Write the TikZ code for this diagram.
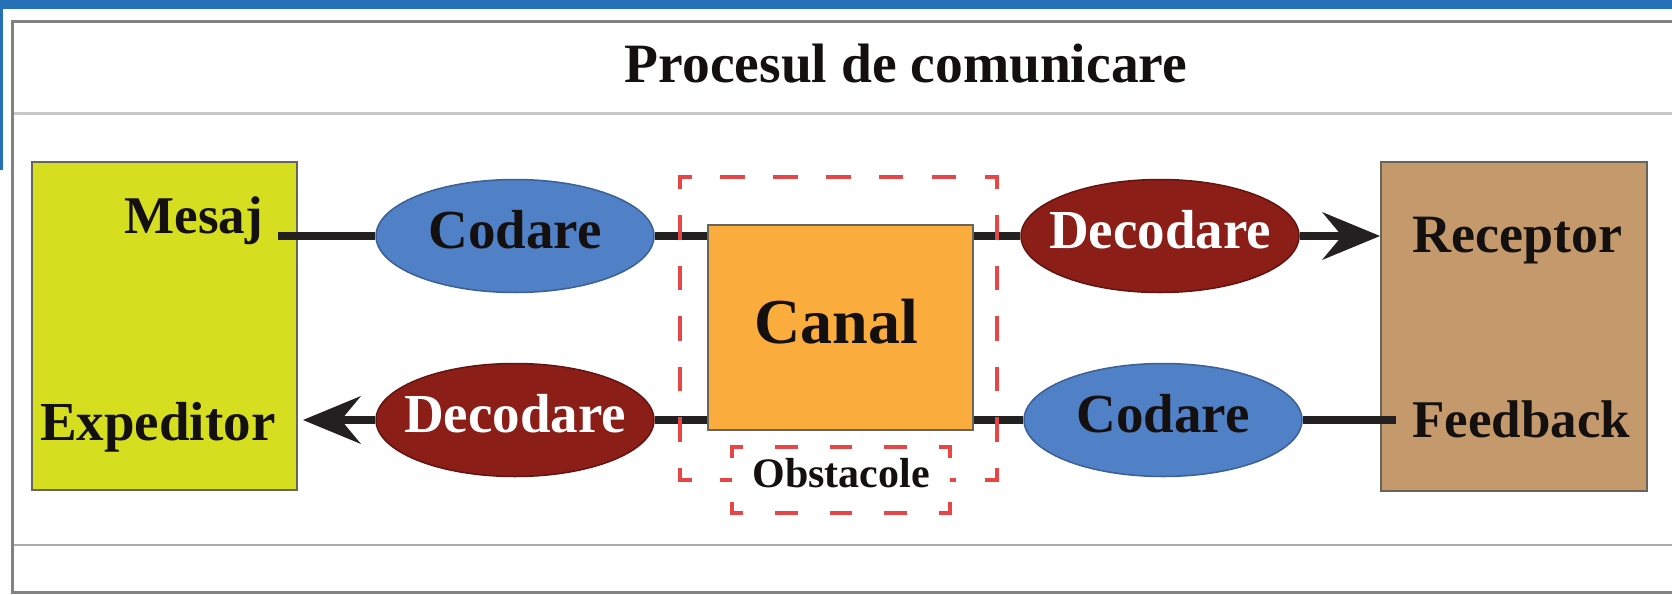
\documentclass[tikz,border=0pt]{standalone}
\usepackage{fontspec}
\setmainfont{Liberation Serif}
\usetikzlibrary{arrows.meta,shapes.geometric,calc}
\definecolor{bluebar}{RGB}{38,112,183}
\definecolor{framec}{RGB}{130,130,130}
\definecolor{sepc}{RGB}{200,200,200}
\definecolor{sepd}{RGB}{170,170,170}
\definecolor{yel}{RGB}{214,222,32}
\definecolor{tan}{RGB}{196,153,107}
\definecolor{orng}{RGB}{250,172,60}
\definecolor{codblue}{RGB}{80,128,198}
\definecolor{codborder}{RGB}{60,95,150}
\definecolor{decred}{RGB}{140,30,24}
\definecolor{decborder}{RGB}{100,20,16}
\definecolor{obstred}{RGB}{232,70,70}
\definecolor{ink}{RGB}{20,16,16}
\definecolor{linec}{RGB}{35,32,33}
\definecolor{boxborder}{RGB}{105,100,90}
\begin{document}
\begin{tikzpicture}[x=1pt,y=-1pt,
  box/.style={draw=boxborder,line width=2pt,rectangle,inner sep=0pt},
  lbl/.style={inner sep=0pt,text=ink,font=\bfseries\fontsize{54}{60}\selectfont},
  ell/.style={ellipse,minimum width=278pt,minimum height=113pt,inner xsep=-25pt,inner ysep=0pt,line width=1.5pt,
    font=\bfseries\fontsize{55}{60}\selectfont,text height=28pt,text depth=4pt},
  codell/.style={ell,fill=codblue,draw=codborder,text=ink},
  decell/.style={ell,fill=decred,draw=decborder,text=white},
  conn/.style={draw=linec,line width=7.5pt},
  tip/.style={-{Stealth[length=58pt,width=48pt,inset=20pt,line width=0pt]}},
  red/.style={draw=obstred,line width=3.5pt,line cap=rect},
  zoneh/.style={red,dash pattern=on 21pt off 31.83pt,dash phase=10.5pt},
  zonev/.style={red,dash pattern=on 21pt off 29.5pt,dash phase=10.5pt},
  obsh/.style={red,dash pattern=on 19pt off 35.5pt,dash phase=9.5pt},
  obsv/.style={red,dash pattern=on 19pt off 47pt,dash phase=9.5pt}
]
\useasboundingbox (0,0) rectangle (1672,594);
\fill[white] (0,0) rectangle (1672,594);
\fill[bluebar] (0,0) rectangle (1672,9);
\fill[bluebar] (0,0) rectangle (3,170);
\draw[framec,line width=3pt] (1672,21.5) -- (12,21.5) -- (12,592) -- (1672,592);
\draw[sepc,line width=3pt] (13.5,113) -- (1672,113);
\draw[sepd,line width=2.5pt] (13.5,545) -- (1672,545);

\node[lbl,font=\bfseries\fontsize{55.5}{60}\selectfont,anchor=base] (title) at (906,82) {Procesul de comunicare};

% boxes
\node[box,fill=yel,minimum width=265pt,minimum height=328pt] (exp) at (164.5,326) {};
\node[box,fill=tan,minimum width=266pt,minimum height=329pt] (rec) at (1514,326.5) {};
\node[box,fill=orng,minimum width=265pt,minimum height=205pt] (canal) at (840.5,327.5) {};

\node[lbl,font=\bfseries\fontsize{53}{60}\selectfont,anchor=base east] (mesaj) at (263,233) {Mesaj};
\node[lbl,font=\bfseries\fontsize{55}{60}\selectfont,anchor=base west] (expt) at (40,440) {Expeditor};
\node[lbl,anchor=base west] (rect) at (1412,252) {Receptor};
\node[lbl,font=\bfseries\fontsize{53}{60}\selectfont,anchor=base west] (feed) at (1412,437) {Feedback};
\node[lbl,font=\bfseries\fontsize{64}{70}\selectfont,anchor=base] (canalt) at (836,343) {Canal};

% ellipses
\node[codell] (cod1) at (515,236) {Codare};
\node[decell] (dec1) at (1160,236) {Decodare};
\node[decell] (dec2) at (515,420) {Decodare};
\node[codell] (cod2) at (1163,420) {Codare};

% connectors
\coordinate (m0) at (278,236);
\coordinate (f0) at (1396,420);
\draw[conn] (m0) -- (cod1.west);
\draw[conn] (cod1.east) -- (cod1.east -| canal.west);
\draw[conn] (canal.east |- dec1.west) -- (dec1.west);
\draw[conn,tip] (dec1.east) -- (dec1.east -| rec.west);
\draw[conn] (f0) -- (cod2.east);
\draw[conn] (cod2.west) -- (cod2.west -| canal.east);
\draw[conn] (canal.west |- dec2.east) -- (dec2.east);
\draw[conn,tip] (dec2.west) -- ($(dec2.west -| exp.east)+(5,0)$);

% obstacle zone
\node[rectangle,inner sep=0pt,minimum width=317pt,minimum height=303pt] (zone) at (838.5,328.5) {};
\draw[zoneh] (zone.north west) -- (zone.north east);
\draw[zoneh] (zone.south west) -- (zone.south east);
\draw[zonev] (zone.north west) -- (zone.south west);
\draw[zonev] (zone.north east) -- (zone.south east);
\node[rectangle,fill=white,inner sep=0pt,minimum width=218pt,minimum height=66pt,
  text=ink,font=\bfseries\fontsize{42}{48}\selectfont,text height=18pt,text depth=4pt] (obs) at (841,480) {Obstacole};
\draw[obsh] (obs.north west) -- (obs.north east);
\draw[obsh] (obs.south west) -- (obs.south east);
\draw[obsv] (obs.north west) -- (obs.south west);
\draw[obsv] (obs.north east) -- (obs.south east);
\end{tikzpicture}
\end{document}
